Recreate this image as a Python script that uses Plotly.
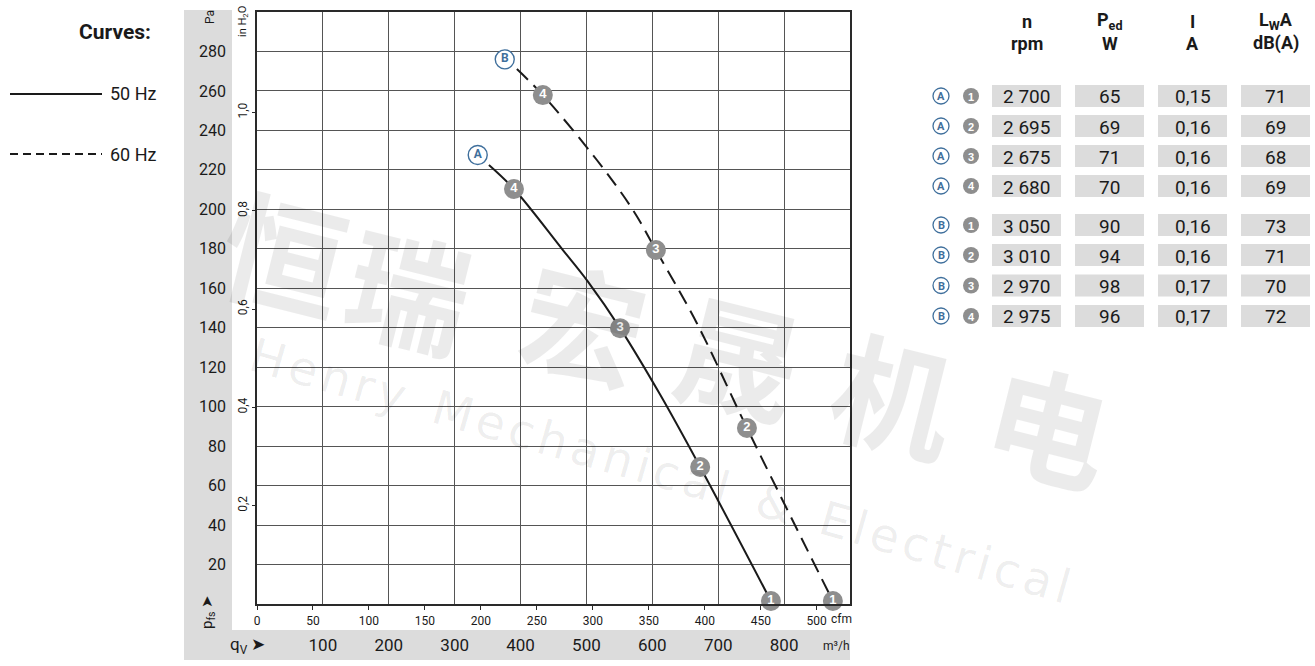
import plotly.graph_objects as go

# ---------------- data ----------------
# 50 Hz curve (A), airflow m3/h vs static pressure Pa
qA = [352, 390, 464, 502, 551, 612, 672.6, 780]
pA = [222.5, 210.3, 179.5, 163.5, 139.8, 106, 69.4, 1.5]
# 60 Hz curve (B)
qB = [394.4, 433.8, 515.8, 570.5, 605.4, 668, 743.6, 874]
pB = [271.1, 257.9, 225, 199.7, 179.4, 142, 89.2, 1.5]

# operating points 1..4
opA_q = [780, 672.6, 551, 390]
opA_p = [1.5, 69.4, 139.8, 210.3]
opB_q = [874, 743.6, 605.4, 433.8]
opB_p = [1.5, 89.2, 179.4, 257.9]
op_labels = ["1", "2", "3", "4"]

# curve name tags
tag_q = [335, 376]
tag_p = [227.5, 276]
tag_text = ["A", "B"]

# axes
pa_ticks = [20, 40, 60, 80, 100, 120, 140, 160, 180, 200, 220, 240, 260, 280]
m3h_ticks = [100, 200, 300, 400, 500, 600, 700, 800]
cfm_ticks = [0, 50, 100, 150, 200, 250, 300, 350, 400, 450, 500]
inh2o_ticks = [0.2, 0.4, 0.6, 0.8, 1.0]
inh2o_text = ["0,2", "0,4", "0,6", "0,8", "1,0"]
CFM = 1.69901   # m3/h per cfm
INH2O = 249.089  # Pa per inch H2O

# table
tbl_curve = ["A", "A", "A", "A", "B", "B", "B", "B"]
tbl_pt = ["1", "2", "3", "4", "1", "2", "3", "4"]
rpm = ["2 700", "2 695", "2 675", "2 680", "3 050", "3 010", "2 970", "2 975"]
ped = ["65", "69", "71", "70", "90", "94", "98", "96"]
cur = ["0,15", "0,16", "0,16", "0,16", "0,16", "0,16", "0,17", "0,17"]
lwa = ["71", "69", "68", "69", "73", "71", "70", "72"]
headers = [("n", "rpm"), ("P<sub>ed</sub>", "W"), ("I", "A"), ("L<sub>W</sub>A", "dB(A)")]

# ---------------- layout helpers ----------------
W, H = 1315, 666
L, R, T, B = 257, 850, 12, 604
def px(x):
    return (x - L) / (R - L)
def py(y):
    return (B - y) / (B - T)

FONT = "Roboto, Liberation Sans, sans-serif"
GRAY_MK = "#8e8e8e"
BLUE = "#3f6f9c"
INK = "#1a1a1a"
BAND = "#dcdcdc"

fig = go.Figure()

# curves
fig.add_trace(go.Scatter(x=qA, y=pA, mode="lines", cliponaxis=False,
                         line=dict(color=INK, width=2, shape="spline", smoothing=1.0),
                         showlegend=False, hoverinfo="skip"))
fig.add_trace(go.Scatter(x=qB, y=pB, mode="lines", cliponaxis=False,
                         line=dict(color=INK, width=2, shape="spline", smoothing=1.0,
                                   dash="15px,8px"),
                         showlegend=False, hoverinfo="skip"))
# operating point markers
for q, p in ((opA_q, opA_p), (opB_q, opB_p)):
    fig.add_trace(go.Scatter(x=q, y=p, mode="markers+text", text=op_labels, cliponaxis=False,
                             textposition="middle center",
                             textfont=dict(family="Liberation Sans, Arial, sans-serif",
                                           size=13, color="white", weight="bold"),
                             marker=dict(size=20, color=GRAY_MK, line=dict(width=0)),
                             showlegend=False, hoverinfo="skip"))
# A / B tags
fig.add_trace(go.Scatter(x=tag_q, y=tag_p, mode="markers+text", text=tag_text, cliponaxis=False,
                         textposition="middle center",
                         textfont=dict(family=FONT, size=12, color=BLUE, weight="bold"),
                         marker=dict(size=19, color="white", line=dict(width=1.4, color=BLUE)),
                         showlegend=False, hoverinfo="skip"))
# invisible traces to activate secondary axes
fig.add_trace(go.Scatter(x=[0], y=[0], xaxis="x2", yaxis="y", mode="markers",
                         marker=dict(opacity=0), showlegend=False, hoverinfo="skip"))
fig.add_trace(go.Scatter(x=[0], y=[0], xaxis="x", yaxis="y2", mode="markers",
                         marker=dict(opacity=0), showlegend=False, hoverinfo="skip"))

fig.update_layout(
    width=W, height=H, autosize=False,
    margin=dict(l=L, r=W - R, t=T, b=H - B, autoexpand=False),
    paper_bgcolor="white", plot_bgcolor="white",
    font=dict(family=FONT, color=INK),
    xaxis=dict(range=[0, 900], tickvals=m3h_ticks, ticks="", showgrid=True, automargin=False,
               gridcolor="#555555", gridwidth=1.1, showline=True, mirror=True,
               linecolor="#2a2a2a", linewidth=1.5, zeroline=False,
               tickfont=dict(size=17, color=INK), ticklabelstandoff=25),
    xaxis2=dict(range=[0, 900 / CFM], overlaying="x", anchor="y", side="bottom",
                tickvals=cfm_ticks, ticks="outside", ticklen=5, tickcolor="#2a2a2a",
                showgrid=False, showline=False, zeroline=False, automargin=False,
                tickfont=dict(size=12, color=INK), ticklabelstandoff=1),
    yaxis=dict(range=[0, 300], tickvals=pa_ticks, ticks="", showgrid=True, automargin=False,
               gridcolor="#555555", gridwidth=1.1, showline=True, mirror=True,
               linecolor="#2a2a2a", linewidth=1.5, zeroline=False,
               tickfont=dict(size=16, color=INK), ticklabelstandoff=26),
    yaxis2=dict(range=[0, 300 / INH2O], overlaying="y", anchor="x", side="left",
                tickvals=inh2o_ticks, ticktext=inh2o_text, ticks="outside", ticklen=4,
                tickcolor="#2a2a2a", tickangle=-90, showgrid=False, showline=False,
                zeroline=False, automargin=False, tickfont=dict(size=12, color=INK)),
)

shapes = []
annos = []
# gray bands around the chart
shapes.append(dict(type="rect", xref="paper", yref="paper", x0=px(184), x1=px(232),
                   y0=py(660), y1=py(10), fillcolor=BAND, line=dict(width=0), layer="below"))
shapes.append(dict(type="rect", xref="paper", yref="paper", x0=px(184), x1=px(850),
                   y0=py(660), y1=py(630), fillcolor=BAND, line=dict(width=0), layer="below"))

def text(x, y, s, size, bold=False, xanchor="center", angle=0, color=INK, family=FONT):
    annos.append(dict(x=px(x), y=py(y), xref="paper", yref="paper", text=s, showarrow=False,
                      xanchor=xanchor, yanchor="middle", textangle=angle,
                      font=dict(family=family, size=size, color=color,
                                weight="bold" if bold else "normal")))

# watermark
wm_chars = ["恒", "瑞", "宏", "晟", "机", "电"]
wm_x = [285, 410, 585, 740, 895, 1050]
wm_y = [250, 285, 318, 352, 390, 420]
for c, x, y in zip(wm_chars, wm_x, wm_y):
    annos.append(dict(x=px(x), y=py(y), xref="paper", yref="paper", text=c, showarrow=False,
                      xanchor="center", yanchor="middle",
                      textangle=14, font=dict(family="Noto Sans CJK SC", size=122,
                                              color="rgba(0,0,0,0.08)", weight="bold")))
hs = "\u200a"
wm_en = "  ".join(hs.join(w) for w in ["Henry", "Mechanical", "&", "Electrical"])
annos.append(dict(x=px(660), y=py(470), xref="paper", yref="paper",
                  text=wm_en, showarrow=False, textangle=16, xanchor="center", yanchor="middle",
                  font=dict(family="DejaVu Sans", size=47, color="rgba(0,0,0,0.075)")))

# axis captions
text(210, 17, "Pa", 12, angle=-90)
text(243, 22, "in H<sub>2</sub>O", 11, angle=-90)
text(208, 612, "p<sub>fs</sub> ➤", 15, angle=-90)
text(247, 645, "q<sub>V</sub> ➤", 17)
text(829, 619, "cfm", 12, xanchor="left")
text(836, 646, "m³/h", 12)

# legend
text(153, 32, "Curves:", 21, bold=True, xanchor="right")
shapes.append(dict(type="line", xref="paper", yref="paper", x0=px(10), x1=px(102),
                   y0=py(94), y1=py(94), line=dict(color=INK, width=2.2)))
shapes.append(dict(type="line", xref="paper", yref="paper", x0=px(10), x1=px(102),
                   y0=py(154), y1=py(154), line=dict(color=INK, width=2.2, dash="8px,5px")))
text(108, 94, "50 Hz", 18, xanchor="left")
text(108, 154, "60 Hz", 18, xanchor="left")

# table
col_x = [(992, 1061), (1075, 1144), (1158, 1227), (1241, 1310)]
row_y = [96, 126, 156, 186, 225, 255, 285.5, 316]
for (x0, x1), (h1, h2) in zip(col_x, headers):
    cx = (x0 + x1) / 2
    text(cx, 21, h1, 18, bold=True)
    text(cx, 43, h2, 18, bold=True)
cols = [rpm, ped, cur, lwa]
for i, y in enumerate(row_y):
    for (x0, x1), vals in zip(col_x, cols):
        shapes.append(dict(type="rect", xref="paper", yref="paper", x0=px(x0), x1=px(x1),
                           y0=py(y + 11), y1=py(y - 11), fillcolor=BAND, line=dict(width=0)))
        text((x0 + x1) / 2, y + 1, vals[i], 19)
    r = 8
    shapes.append(dict(type="circle", xref="paper", yref="paper", x0=px(941 - r), x1=px(941 + r),
                       y0=py(y + r), y1=py(y - r), fillcolor="white",
                       line=dict(color=BLUE, width=1.3)))
    text(941, y + 0.5, tbl_curve[i], 11, bold=True, color=BLUE)
    shapes.append(dict(type="circle", xref="paper", yref="paper", x0=px(971 - r), x1=px(971 + r),
                       y0=py(y + r), y1=py(y - r), fillcolor=GRAY_MK, line=dict(width=0)))
    text(971, y + 0.5, tbl_pt[i], 11, bold=True, color="white",
         family="Liberation Sans, Arial, sans-serif")

fig.update_layout(shapes=shapes, annotations=annos)
fig.write_html("out.html", config={"displayModeBar": False},
               post_script="document.body.style.margin='0';document.body.style.overflow='hidden';")
